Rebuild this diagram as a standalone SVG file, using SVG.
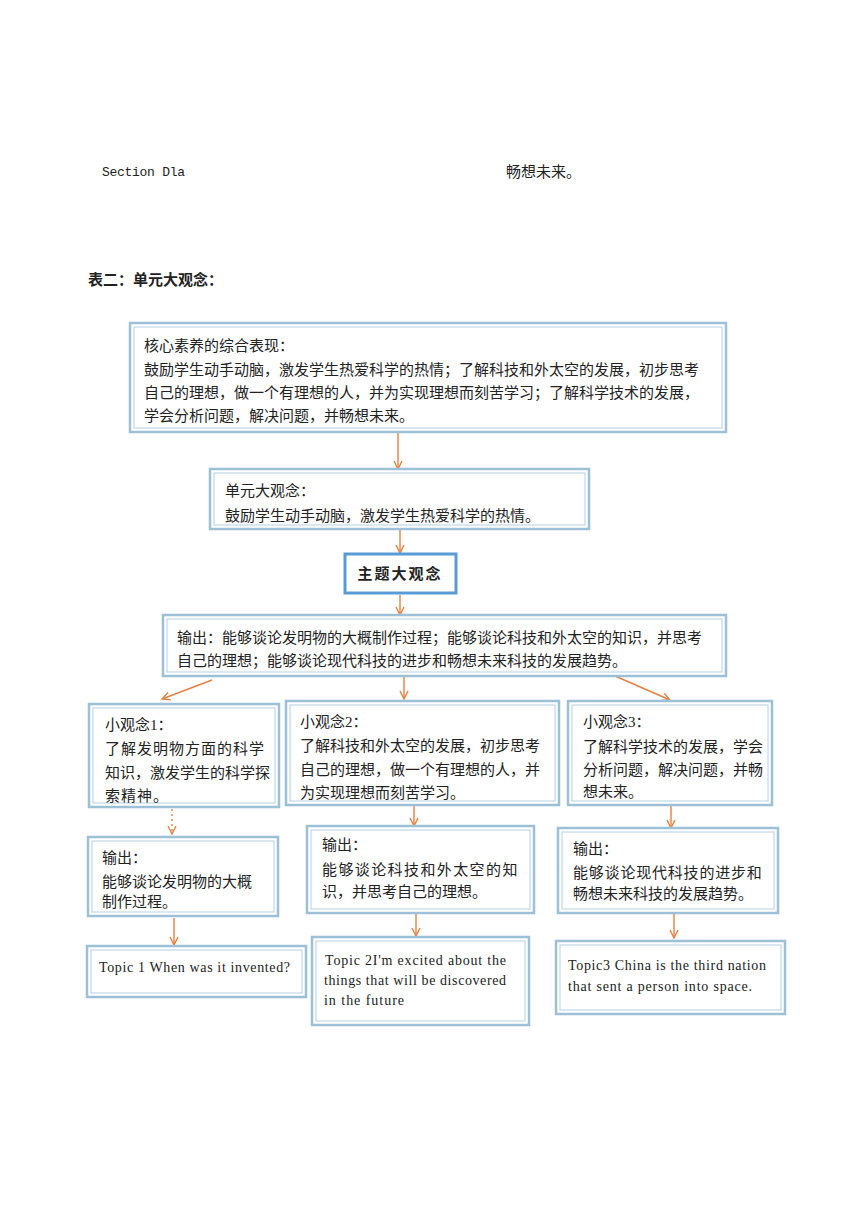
<svg xmlns="http://www.w3.org/2000/svg" width="860" height="1217" viewBox="0 0 860 1217">
<defs>
<marker id="ah" markerWidth="12" markerHeight="12" refX="9" refY="5" orient="auto" markerUnits="userSpaceOnUse">
<path d="M1,1 L9,5 L1,9" fill="none" stroke="#e4803f" stroke-width="1.4"/>
</marker>
</defs>
<style>
.o{fill:#fff;stroke:#9cc0d6;stroke-width:2.5}
.i{fill:none;stroke:#b5d0e2;stroke-width:1}
.b{fill:#fff;stroke:#5b9bd5;stroke-width:3}
.t{font-family:"Liberation Serif","Noto Sans CJK SC",serif;font-size:15px;fill:#222}
.e{font-family:"Liberation Serif","Noto Sans CJK SC",serif;font-size:14px;fill:#222}
.m{font-family:"Liberation Mono","Noto Sans CJK SC",monospace;font-size:13px;fill:#222}
.c{stroke:#e4803f;stroke-width:1.4;fill:none;marker-end:url(#ah)}
</style>
<rect width="860" height="1217" fill="#fff"/>
<text class="m" x="102" y="176" textLength="83">Section Dla</text>
<text class="t" x="506" y="177" font-size="14">畅想未来。</text>
<text class="t" x="88" y="285" font-size="14" font-weight="bold" fill="#000">表二：单元大观念：</text>

<g id="connectors">
<line class="c" x1="398" y1="433" x2="398" y2="469"/>
<line class="c" x1="400" y1="530" x2="400" y2="553"/>
<line class="c" x1="400" y1="595" x2="400" y2="615"/>
<line class="c" x1="212" y1="680" x2="162" y2="699"/>
<line class="c" x1="404" y1="677" x2="404" y2="699"/>
<line class="c" x1="615" y1="676" x2="670" y2="700"/>
<line class="c" x1="172" y1="809" x2="172" y2="834" stroke-dasharray="2 3"/>
<line class="c" x1="414" y1="806" x2="414" y2="826"/>
<line class="c" x1="671" y1="806" x2="671" y2="828"/>
<line class="c" x1="174" y1="918" x2="174" y2="945"/>
<line class="c" x1="416" y1="914" x2="416" y2="936"/>
<line class="c" x1="674" y1="914" x2="674" y2="938" stroke-width="1"/>
</g>

<g id="core">
<rect class="o" x="130" y="323" width="596" height="109"/>
<rect class="i" x="134" y="327" width="588" height="101"/>
<text class="t" x="144" y="351">核心素养的综合表现：</text>
<text class="t" x="144" y="375" font-size="15.3">鼓励学生动手动脑，激发学生热爱科学的热情；了解科技和外太空的发展，初步思考</text>
<text class="t" x="144" y="398" font-size="15.3">自己的理想，做一个有理想的人，并为实现理想而刻苦学习；了解科学技术的发展，</text>
<text class="t" x="144" y="421" font-size="15.3">学会分析问题，解决问题，并畅想未来。</text>
</g>

<g id="unit">
<rect class="o" x="210" y="469" width="379" height="60"/>
<rect class="i" x="214" y="473" width="371" height="52"/>
<text class="t" x="225" y="496">单元大观念：</text>
<text class="t" x="225" y="521">鼓励学生动手动脑，激发学生热爱科学的热情。</text>
</g>

<g id="theme">
<rect class="b" x="345" y="554" width="111" height="39"/>
<text class="t" x="400" y="579" text-anchor="middle" font-weight="bold" letter-spacing="2">主题大观念</text>
</g>

<g id="output">
<rect class="o" x="163" y="615" width="563" height="61"/>
<rect class="i" x="167" y="619" width="555" height="53"/>
<text class="t" x="177" y="643">输出：能够谈论发明物的大概制作过程；能够谈论科技和外太空的知识，并思考</text>
<text class="t" x="177" y="666">自己的理想；能够谈论现代科技的进步和畅想未来科技的发展趋势。</text>
</g>

<g id="idea1">
<rect class="o" x="89" y="704" width="190" height="103"/>
<rect class="i" x="93" y="708" width="182" height="95"/>
<text class="t" x="105" y="730">小观念1：</text>
<text class="t" x="105" y="754" letter-spacing="1">了解发明物方面的科学</text>
<text class="t" x="105" y="778" font-size="14.7">知识，激发学生的科学探</text>
<text class="t" x="105" y="801" letter-spacing="1">索精神。</text>
</g>

<g id="idea2">
<rect class="o" x="286" y="701" width="273" height="104"/>
<rect class="i" x="290" y="705" width="265" height="96"/>
<text class="t" x="300" y="727">小观念2：</text>
<text class="t" x="300" y="751">了解科技和外太空的发展，初步思考</text>
<text class="t" x="300" y="775">自己的理想，做一个有理想的人，并</text>
<text class="t" x="300" y="798">为实现理想而刻苦学习。</text>
</g>

<g id="idea3">
<rect class="o" x="568" y="701" width="204" height="104"/>
<rect class="i" x="572" y="705" width="196" height="96"/>
<text class="t" x="583" y="727">小观念3：</text>
<text class="t" x="583" y="752">了解科学技术的发展，学会</text>
<text class="t" x="583" y="775">分析问题，解决问题，并畅</text>
<text class="t" x="583" y="797">想未来。</text>
</g>

<g id="out1">
<rect class="o" x="88" y="837" width="190" height="79"/>
<rect class="i" x="92" y="841" width="182" height="71"/>
<text class="t" x="102" y="863">输出：</text>
<text class="t" x="102" y="887">能够谈论发明物的大概</text>
<text class="t" x="102" y="907">制作过程。</text>
</g>

<g id="out2">
<rect class="o" x="307" y="826" width="227" height="87"/>
<rect class="i" x="311" y="830" width="219" height="79"/>
<text class="t" x="322" y="850">输出：</text>
<text class="t" x="322" y="875" letter-spacing="1.4">能够谈论科技和外太空的知</text>
<text class="t" x="322" y="897">识，并思考自己的理想。</text>
</g>

<g id="out3">
<rect class="o" x="558" y="828" width="220" height="85"/>
<rect class="i" x="562" y="832" width="212" height="77"/>
<text class="t" x="573" y="854">输出：</text>
<text class="t" x="573" y="878" letter-spacing="0.8">能够谈论现代科技的进步和</text>
<text class="t" x="573" y="899">畅想未来科技的发展趋势。</text>
</g>

<g id="topic1">
<rect class="o" x="87" y="946" width="219" height="51"/>
<rect class="i" x="91" y="950" width="211" height="43"/>
<text class="e" x="99" y="972" textLength="191">Topic 1 When was it invented?</text>
</g>

<g id="topic2">
<rect class="o" x="312" y="937" width="217" height="88"/>
<rect class="i" x="316" y="941" width="209" height="80"/>
<text class="e" x="325" y="965" textLength="181">Topic 2I'm excited about the</text>
<text class="e" x="324" y="985" textLength="182">things that will be discovered</text>
<text class="e" x="324" y="1005" textLength="80">in the future</text>
</g>

<g id="topic3">
<rect class="o" x="556" y="941" width="229" height="73"/>
<rect class="i" x="560" y="945" width="221" height="65"/>
<text class="e" x="568" y="970" textLength="198">Topic3 China is the third nation</text>
<text class="e" x="568" y="991" textLength="184">that sent a person into space.</text>
</g>
</svg>
